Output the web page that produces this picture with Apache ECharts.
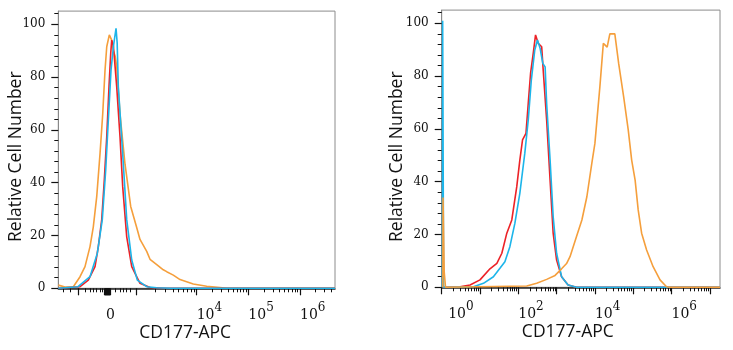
<!DOCTYPE html>
<html><head><meta charset="utf-8">
<script src="https://cdn.jsdelivr.net/npm/echarts@6/dist/echarts.min.js"></script>
<style>html,body{margin:0;padding:0;background:#fff}#c{width:733px;height:350px}</style>
</head><body><div id="c"></div>
<script>
// ---------- DATA ----------
// Left panel: x in biexponential display units (10^4 -> 4, 10^5 -> 5, 10^6 -> 6)
var leftOrangeX = [1.32,1.45,1.611,1.741,1.837,1.934,1.998,2.064,2.128,2.180,2.225,2.258,2.308,2.354,2.385,2.42,2.451,2.515,2.612,2.722,2.838,2.902,3.032,3.096,3.226,3.353,3.419,3.547,3.677,3.934,4.194,4.45,4.581,6.678];
var leftOrangeY = [1.2,0.5,0.6,4.4,8.2,15.8,23.3,34.7,51,66,82.7,91.5,96,94,90,88,84,66,47,31,23,18.5,14,11,9,7,6.3,5,3.3,1.6,0.8,0.3,0,0];
var leftRedX = [1.32,1.741,1.901,2.031,2.095,2.161,2.211,2.258,2.302,2.335,2.354,2.385,2.399,2.451,2.515,2.567,2.645,2.742,2.902,3.096,3.4,6.678];
var leftRedY = [0,0.6,3.1,8.2,15.8,26,41,57.4,76.4,89,94,92,89,76.4,57.4,38.5,19.5,8.2,1.9,0.3,0,0];
var leftBlueX = [1.32,1.702,1.934,2.075,2.172,2.238,2.289,2.341,2.39,2.438,2.46,2.482,2.567,2.645,2.742,2.850,3.032,3.226,3.5,6.678];
var leftBlueY = [0,0.6,4.4,13.2,26,44.8,63.8,82.7,92,98.5,93,76.4,51,26,10.7,3.1,0.6,0.2,0,0];
// Right panel: x in log10 decades
var rightRedX = [0.025,0.13,0.48,0.74,1.0,1.26,1.44,1.57,1.70,1.83,1.96,2.04,2.11,2.20,2.26,2.32,2.39,2.45,2.52,2.61,2.65,2.74,2.83,2.91,3.0,3.13,3.30,3.52,7.266];
var rightRedY = [0,0,0.2,0.9,2.8,7,9.1,12.9,20.5,25.5,38.1,48.2,55.8,58.3,69.7,81,88.6,95.6,92.4,91.1,82.3,63.4,40.6,20.5,10.3,4.0,0.9,0,0];
var rightBlueX = [0.02,0.025,0.05,0.13,0.83,1.09,1.35,1.52,1.65,1.78,1.91,2.04,2.17,2.26,2.34,2.43,2.50,2.57,2.64,2.70,2.74,2.83,2.91,3.00,3.13,3.30,3.52,7.266];
var rightBlueY = [0,101,0,0,0.2,1.5,4.0,7.2,9.7,15.4,24.2,35.6,50.8,63.4,78.5,89.9,93.7,90.5,84.8,83.5,69.6,48.2,26.8,12.9,4.0,0.9,0,0];
var rightOrangeX = [0.03,0.035,0.065,0.1,2.22,2.48,2.74,2.96,3.13,3.26,3.35,3.52,3.66,3.79,3.92,4.00,4.13,4.22,4.32,4.39,4.52,4.62,4.75,4.87,4.96,5.05,5.13,5.22,5.35,5.52,5.70,5.87,5.96,7.266];
var rightOrangeY = [0,34,6,0,0.5,1.5,3,4.5,7,9,11.6,19.2,25.5,34.3,47,54.5,76,92.4,91,96,96,84.8,72.2,59.6,48.2,40.6,29.3,20.5,14.1,7.8,2.8,0.2,0,0];

// Tick labels
var yTickLabels = [0,20,40,60,80,100];
var leftLabelVals = [2.244,4,5,6];
var leftLabelTexts = ['0','10^4','10^5','10^6'];
var rightLabelVals = [0.17,2,4,6];
var rightLabelTexts = ['10^0','10^2','10^4','10^6'];
var xName = 'CD177-APC';
var yName = 'Relative Cell Number';

// Tick positions
var leftMajorTicks = [1.709,2.215,2.225,2.235,2.245,2.255,2.265,2.275,2.285,2.295,2.305,2.315,2.325,2.838,4,5,6];
var leftMinorTicks = [1.42,1.56,1.837,1.934,1.998,2.064,2.128,2.180,2.418,2.515,2.573,2.645,2.709];
(function(){
  for (var k=2;k<=9;k++){ leftMinorTicks.push(2.838+1.162*Math.log10(k)); }
  for (var d=4;d<=6;d++){ for (var k2=2;k2<=9;k2++){ var v=d+Math.log10(k2); if (v<6.67) leftMinorTicks.push(v);} }
})();
var rightMajorTicks = [0,1,2,3,4,5,6,7];
var rightMinorTicks = [];
(function(){ for (var d=0;d<=7;d++){ for (var k=2;k<=9;k++){ var v=d+Math.log10(k); if (v<7.26) rightMinorTicks.push(v);} } })();
var yMinorTicks = [];
(function(){ for (var v=4; v<=104; v+=4){ if (v%20!==0) yMinorTicks.push(v);} })();

// ---------- CHART ----------
function zip(xs, ys){ return xs.map(function(x,i){ return [x, ys[i]]; }); }
var serif = 'DejaVu Serif';
var sans = 'Open Sans';
var rich = {
  b: {fontFamily: serif, fontSize: 14, color: '#111', padding: [6,0,0,0]},
  s: {fontFamily: serif, fontSize: 12, color: '#111', verticalAlign: 'top'}
};
function fmtFactory(vals, texts){
  return function(v){
    var best = 0, bd = 1e9;
    for (var i=0;i<vals.length;i++){ var dd=Math.abs(vals[i]-v); if (dd<bd){bd=dd;best=i;} }
    var t = texts[best];
    var p = t.split('^');
    if (p.length === 1) return '{b|' + t + '}';
    return '{b|' + p[0] + '}{s|' + p[1] + '}';
  };
}
var C = {red: '#ec2227', blue: '#1cb5ea', orange: '#f59f3c'};

function mainX(gi, min, max, majors, labelVals, labelTexts, padRight){
  return {
    type: 'value', gridIndex: gi, min: min, max: max, position: 'bottom',
    axisLine: {show: true, onZero: false, lineStyle: {color: '#222', width: 1.5}},
    axisTick: {show: true, length: 7, customValues: majors, lineStyle: {color: '#111', width: 1.2}},
    axisLabel: {show: true, customValues: labelVals, margin: 14, align: 'left',
      formatter: fmtFactory(labelVals, labelTexts), rich: rich},
    splitLine: {show: false},
    name: xName, nameLocation: 'middle', nameGap: 36, nameMoveOverlap: false,
    nameTextStyle: {fontFamily: sans, fontSize: 17.5, color: '#111', padding: [0, padRight, 0, 0]}
  };
}
function minorX(gi, min, max, minors){
  return {
    type: 'value', gridIndex: gi, min: min, max: max, position: 'bottom',
    axisLine: {show: false, onZero: false},
    axisTick: {show: true, length: 4, customValues: minors, lineStyle: {color: '#111', width: 1}},
    axisLabel: {show: false}, splitLine: {show: false}
  };
}
function mainY(gi, gap, padRight){
  return {
    type: 'value', gridIndex: gi, min: 0, max: 105, position: 'left',
    axisLine: {show: true, onZero: false, lineStyle: {color: '#888', width: 1}},
    axisTick: {show: true, length: 7, customValues: yTickLabels, lineStyle: {color: '#111', width: 1.2}},
    axisLabel: {show: true, customValues: yTickLabels, margin: 13,
      fontFamily: serif, fontSize: 12, color: '#111'},
    splitLine: {show: false},
    name: yName, nameLocation: 'middle', nameGap: gap, nameRotate: 90, nameMoveOverlap: false,
    nameTextStyle: {fontFamily: sans, fontSize: 17.5, color: '#111', padding: [0, padRight, 0, 0]}
  };
}
function minorY(gi){
  return {
    type: 'value', gridIndex: gi, min: 0, max: 105, position: 'left',
    axisLine: {show: false, onZero: false},
    axisTick: {show: true, length: 4, customValues: yMinorTicks, lineStyle: {color: '#111', width: 1}},
    axisLabel: {show: false}, splitLine: {show: false}
  };
}
function line(name, xi, yi, data, color){
  return {
    type: 'line', name: name, xAxisIndex: xi, yAxisIndex: yi, data: data,
    showSymbol: false, symbol: 'none', smooth: false, clip: false, z: 5,
    lineStyle: {color: color, width: 1.6}, itemStyle: {color: color}, animation: false
  };
}

var chart = echarts.init(document.getElementById('c'), null, {renderer: 'canvas'});
chart.setOption({
  animation: false,
  backgroundColor: '#fff',
  grid: [
    {left: 58.3, top: 11.1, width: 276.7, height: 277.2, show: true, borderColor: '#8c8c8c', borderWidth: 1, containLabel: false, outerBoundsMode: 'none'},
    {left: 441.7, top: 10.1, width: 278.3, height: 277.2, show: true, borderColor: '#8c8c8c', borderWidth: 1, containLabel: false, outerBoundsMode: 'none'}
  ],
  xAxis: [
    mainX(0, 1.32, 6.678, leftMajorTicks, leftLabelVals, leftLabelTexts, 23),
    minorX(0, 1.32, 6.678, leftMinorTicks),
    mainX(1, 0, 7.266, rightMajorTicks, rightLabelVals, rightLabelTexts, 26),
    minorX(1, 0, 7.266, rightMinorTicks)
  ],
  yAxis: [mainY(0, 33, 14), minorY(0), mainY(1, 36, 16), minorY(1)],
  series: [
    line('Isotype L', 0, 0, zip(leftOrangeX, leftOrangeY), C.orange),
    line('Unstained L', 0, 0, zip(leftRedX, leftRedY), C.red),
    line('Blank L', 0, 0, zip(leftBlueX, leftBlueY), C.blue),
    line('Unstained R', 2, 2, zip(rightRedX, rightRedY), C.red),
    line('Blank R', 2, 2, zip(rightBlueX, rightBlueY), C.blue),
    line('CD177 R', 2, 2, zip(rightOrangeX, rightOrangeY), C.orange)
  ]
});
</script></body></html>
